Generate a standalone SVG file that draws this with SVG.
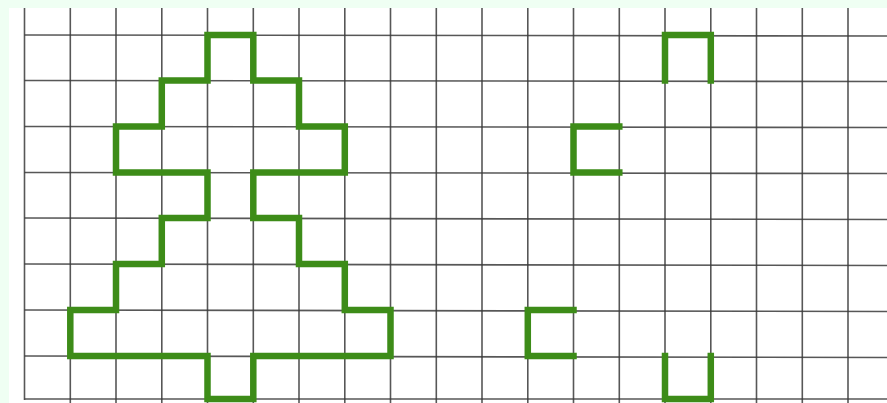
<svg xmlns="http://www.w3.org/2000/svg" width="887" height="403" viewBox="0 0 887 403">
<style>
.grid line{stroke:#3a3a3a;stroke-width:1.6;opacity:0.85}
.shape{fill:none;stroke:#3d8c18;stroke-width:6.5;stroke-linejoin:miter;stroke-linecap:square}
</style>
<rect x="0" y="0" width="887" height="403" fill="#effff3"/>
<rect x="9" y="8" width="878" height="395" fill="#ffffff"/>
<g id="grid" class="grid">
<line x1="24.5" y1="8" x2="24.5" y2="400"/>
<line x1="70.3" y1="8" x2="70.3" y2="403"/>
<line x1="116" y1="8" x2="116" y2="403"/>
<line x1="161.8" y1="8" x2="161.8" y2="403"/>
<line x1="207.5" y1="8" x2="207.5" y2="403"/>
<line x1="253.3" y1="8" x2="253.3" y2="403"/>
<line x1="299" y1="8" x2="299" y2="403"/>
<line x1="344.8" y1="8" x2="344.8" y2="403"/>
<line x1="390.5" y1="8" x2="390.5" y2="403"/>
<line x1="436.3" y1="8" x2="436.3" y2="403"/>
<line x1="482" y1="8" x2="482" y2="403"/>
<line x1="527.8" y1="8" x2="527.8" y2="403"/>
<line x1="573.5" y1="8" x2="573.5" y2="403"/>
<line x1="619.3" y1="8" x2="619.3" y2="403"/>
<line x1="665" y1="8" x2="665" y2="403"/>
<line x1="710.8" y1="8" x2="710.8" y2="403"/>
<line x1="756.5" y1="8" x2="756.5" y2="403"/>
<line x1="802.3" y1="8" x2="802.3" y2="403"/>
<line x1="848" y1="8" x2="848" y2="403"/>
<line x1="24.5" y1="35" x2="887" y2="36"/>
<line x1="24.5" y1="80.5" x2="887" y2="81.5"/>
<line x1="24.5" y1="126.5" x2="887" y2="127.5"/>
<line x1="24.5" y1="172.5" x2="887" y2="173.5"/>
<line x1="24.5" y1="218" x2="887" y2="219.5"/>
<line x1="24.5" y1="264" x2="887" y2="265.5"/>
<line x1="24.5" y1="310" x2="887" y2="311.5"/>
<line x1="24.5" y1="356" x2="887" y2="357.5"/>
<line x1="24.5" y1="399" x2="887" y2="399"/>
</g>
<g id="tree">
<path class="shape" d="M207.5,35 H253.3 V80.5 H299 V126.5 H344.8 V172.5 H253.3 V218 H299 V264 H344.8 V310 H390.5 V356 H253.3 V399 H207.5 V356 H70.3 V310 H116 V264 H161.8 V218 H207.5 V172.5 H116 V126.5 H161.8 V80.5 H207.5 Z"/>
</g>
<g id="cap-top">
<path class="shape" d="M665,80.5 V35 H710.8 V80.5"/>
</g>
<g id="bracket-upper">
<path class="shape" d="M619.3,126.5 H573.5 V172.5 H619.3"/>
</g>
<g id="bracket-lower">
<path class="shape" d="M573.5,310 H527.8 V356 H573.5"/>
</g>
<g id="cup-bottom">
<path class="shape" d="M665,356 V399 H710.8 V356"/>
</g>
</svg>
